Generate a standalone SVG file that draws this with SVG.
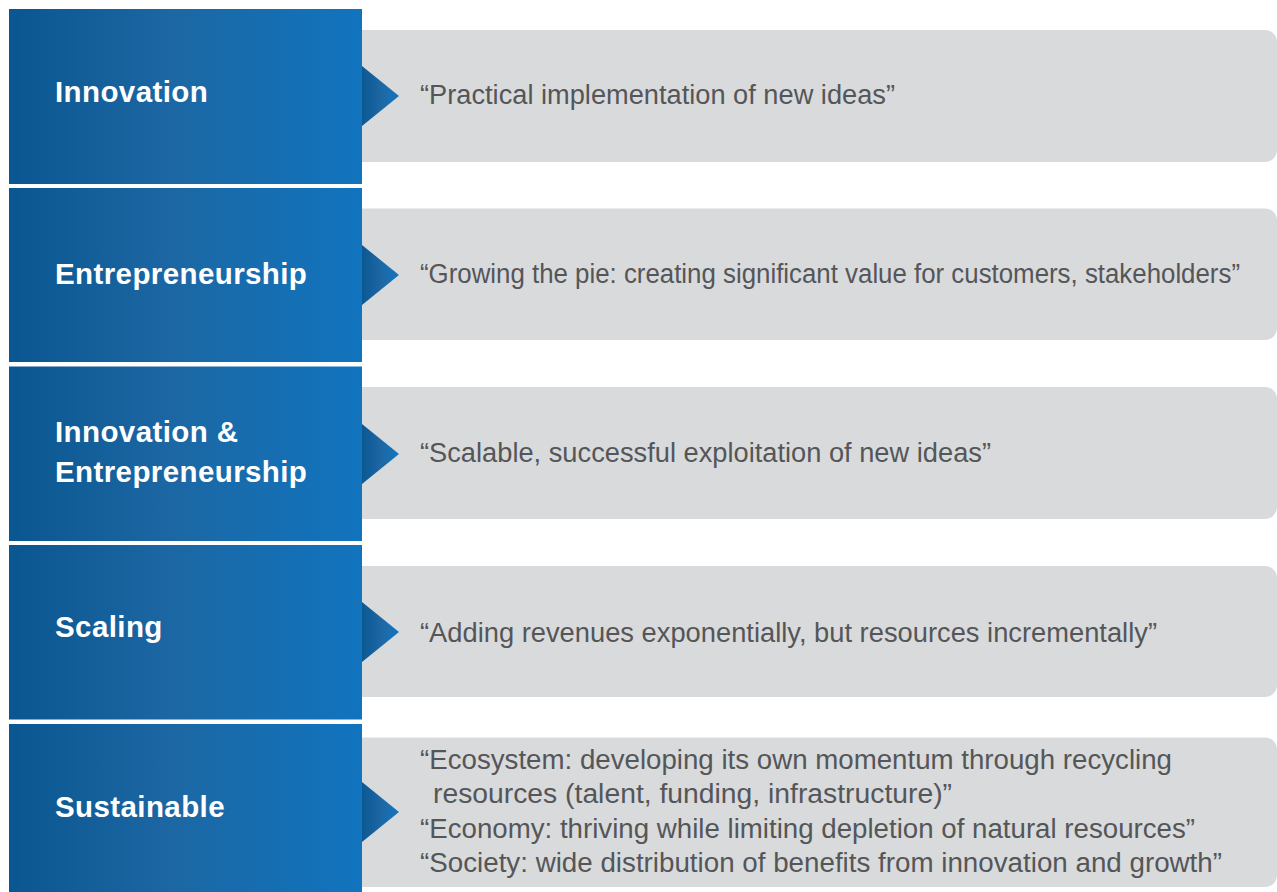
<svg xmlns="http://www.w3.org/2000/svg" width="1277" height="892" viewBox="0 0 1277 892">
  <defs>
    <linearGradient id="blueFill" x1="0" y1="0" x2="1" y2="0">
      <stop offset="0" stop-color="#0a5690"/>
      <stop offset="0.45" stop-color="#1c67a3"/>
      <stop offset="1" stop-color="#1174be"/>
    </linearGradient>
    <linearGradient id="pointerFill" x1="0" y1="0" x2="1" y2="0">
      <stop offset="0" stop-color="#0b5893"/>
      <stop offset="0.5" stop-color="#1d67a4"/>
      <stop offset="1" stop-color="#1476bf"/>
    </linearGradient>
    <style>
      .panel { fill: #d9dadc; }
      .head { fill: url(#blueFill); }
      .pointer { fill: url(#pointerFill); }
      .label { font-family: "Liberation Sans", Arial, sans-serif; font-weight: bold; font-size: 29.5px; fill: #ffffff; letter-spacing: 0.4px; }
      .desc { font-family: "Liberation Sans", Arial, sans-serif; font-size: 27px; fill: #545658; }
    </style>
  </defs>

  <rect width="1277" height="892" fill="#ffffff"/>

  <g id="row-innovation">
    <path class="panel" d="M362 30 H1265 A12 12 0 0 1 1277 42 V150 A12 12 0 0 1 1265 162 H362 Z"/>
    <rect class="head" x="9" y="9" width="353" height="175"/>
    <text class="label" x="55" y="102">Innovation</text>
    <text class="desc" x="420" y="104" textLength="475" lengthAdjust="spacingAndGlyphs">“Practical implementation of new ideas”</text>
  </g>

  <g id="row-entrepreneurship">
    <path class="panel" d="M362 208.5 H1265 A12 12 0 0 1 1277 220.5 V328 A12 12 0 0 1 1265 340 H362 Z"/>
    <rect class="head" x="9" y="188" width="353" height="174"/>
    <text class="label" x="55" y="284">Entrepreneurship</text>
    <text class="desc" x="420" y="283" textLength="820" lengthAdjust="spacingAndGlyphs">“Growing the pie: creating significant value for customers, stakeholders”</text>
  </g>

  <g id="row-innovation-entrepreneurship">
    <path class="panel" d="M362 387 H1265 A12 12 0 0 1 1277 399 V507 A12 12 0 0 1 1265 519 H362 Z"/>
    <rect class="head" x="9" y="366.5" width="353" height="174.5"/>
    <text class="label" x="55" y="442">Innovation &amp;</text>
    <text class="label" x="55" y="482">Entrepreneurship</text>
    <text class="desc" x="420" y="462" textLength="571" lengthAdjust="spacingAndGlyphs">“Scalable, successful exploitation of new ideas”</text>
  </g>

  <g id="row-scaling">
    <path class="panel" d="M362 566 H1265 A12 12 0 0 1 1277 578 V685 A12 12 0 0 1 1265 697 H362 Z"/>
    <rect class="head" x="9" y="545" width="353" height="174.5"/>
    <text class="label" x="55" y="637">Scaling</text>
    <text class="desc" x="420" y="642" textLength="737" lengthAdjust="spacingAndGlyphs">“Adding revenues exponentially, but resources incrementally”</text>
  </g>

  <g id="row-sustainable">
    <path class="panel" d="M362 737.5 H1265 A12 12 0 0 1 1277 749.5 V875 A12 12 0 0 1 1265 887 H362 Z"/>
    <rect class="head" x="9" y="724" width="353" height="168"/>
    <text class="label" x="55" y="817">Sustainable</text>
    <text class="desc" x="420" y="769" textLength="752" lengthAdjust="spacingAndGlyphs">“Ecosystem: developing its own momentum through recycling</text>
    <text class="desc" x="433" y="803" textLength="519" lengthAdjust="spacingAndGlyphs">resources (talent, funding, infrastructure)”</text>
    <text class="desc" x="420" y="838" textLength="775" lengthAdjust="spacingAndGlyphs">“Economy: thriving while limiting depletion of natural resources”</text>
    <text class="desc" x="420" y="872" textLength="802" lengthAdjust="spacingAndGlyphs">“Society: wide distribution of benefits from innovation and growth”</text>
  </g>

  <!-- pointers from each heading into its description panel, drawn on top -->
  <g id="connectors">
    <path class="pointer" d="M362 66 L399 96 L362 126 Z"/>
    <path class="pointer" d="M362 245 L399 275 L362 305 Z"/>
    <path class="pointer" d="M362 424 L399 454 L362 484 Z"/>
    <path class="pointer" d="M362 602 L399 632 L362 662 Z"/>
    <path class="pointer" d="M362 782 L399 812 L362 842 Z"/>
  </g>
</svg>
